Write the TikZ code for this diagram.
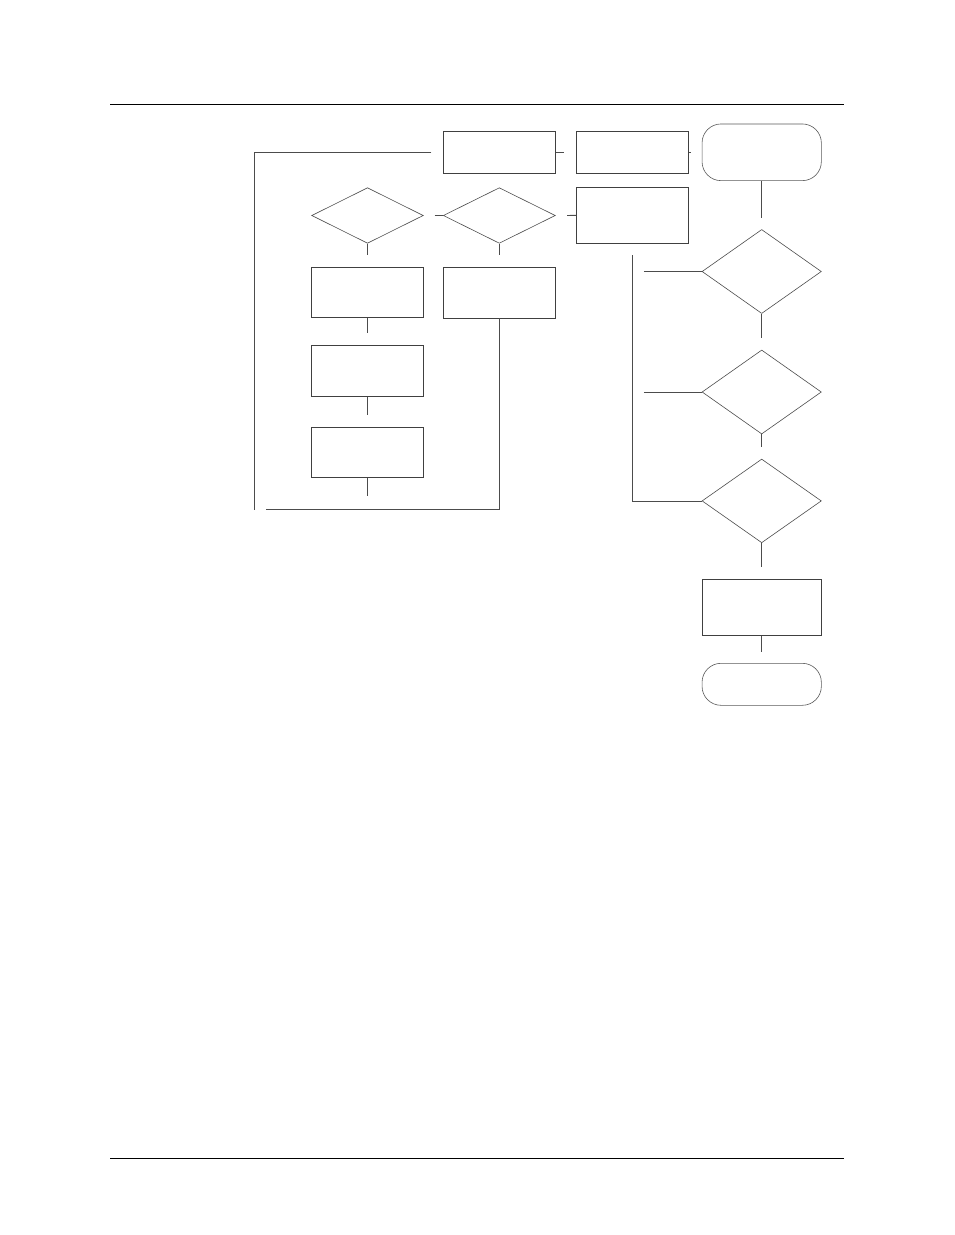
\documentclass[tikz,border=0pt]{standalone}
\usepackage{tikz}
\usetikzlibrary{shapes.geometric}

\tikzset{
  box/.style={draw=black!75, line width=0.7pt, rectangle, inner sep=0pt, minimum width=112pt},
  term/.style={draw=black!65, line width=0.6pt, rectangle, rounded corners=19pt, inner sep=0pt, minimum width=119.3pt},
  test/.style={draw=black!70, line width=0.6pt, diamond, inner sep=0pt},
  link/.style={draw=black!70, line width=0.8pt},
  rule/.style={draw=black, line width=1pt}
}

\begin{document}
\begin{tikzpicture}[x=1pt, y=-1pt]
\useasboundingbox (0,0) rectangle (954,1235);
\draw[rule] (110,104.3) -- (844,104.3);
\draw[rule] (110,1158.3) -- (844,1158.3);

\node[box, minimum height=41.6pt] (a) at (499.3,152.5) {};
\node[box, minimum width=112.4pt, minimum height=41.6pt] (b) at (632.5,152.5) {};
\node[term, minimum height=56.7pt] (start) at (761.7,152.3) {};
\node[test, minimum width=111.6pt, minimum height=55.6pt] (d1) at (367.5,215.5) {};
\node[test, minimum width=112pt, minimum height=55.6pt] (d2) at (499.3,215.5) {};
\node[box, minimum width=112.4pt, minimum height=56pt] (c) at (632.5,215.3) {};
\node[test, minimum width=119.3pt, minimum height=84pt] (d3) at (761.7,271.5) {};
\node[box, minimum width=111.6pt, minimum height=50.7pt] (e) at (367.5,292.3) {};
\node[box, minimum height=51pt] (f) at (499.3,292.5) {};
\node[box, minimum width=111.6pt, minimum height=50.8pt] (g) at (367.5,371) {};
\node[test, minimum width=119.3pt, minimum height=84pt] (d4) at (761.7,392) {};
\node[box, minimum width=111.6pt, minimum height=50pt] (h) at (367.5,452.3) {};
\node[test, minimum width=119.3pt, minimum height=83.7pt] (d5) at (761.7,500.9) {};
\node[box, minimum width=119.3pt, minimum height=56pt] (i) at (761.7,607.3) {};
\node[term, minimum height=42pt] (stop) at (761.7,684.3) {};

\coordinate (loopend) at (254.7,509.6);
\coordinate (hend) at (367.5,496.3);

\draw[link, shorten >=11.6pt] (a) -- (b);
\draw[link, shorten >=11pt] (b) -- (start);
\draw[link, shorten <=11pt] (d1) -- (d2);
\draw[link, shorten <=11.7pt] (d2) -- (c);
\draw[link, shorten >=11.5pt] (start) -- (d3);
\draw[link, shorten >=11.5pt] (d3) -- (d4);
\draw[link, shorten >=11.5pt] (d4) -- (d5);
\draw[link, shorten >=11.5pt] (d5) -- (i);
\draw[link, shorten >=11.3pt] (i) -- (stop);
\draw[link, shorten >=11.3pt] (d1) -- (e);
\draw[link, shorten >=11.3pt] (d2) -- (f);
\draw[link, shorten >=12pt] (e) -- (g);
\draw[link, shorten >=12pt] (g) -- (h);
\draw[link] (h) -- (hend);
\draw[link, shorten <=11.7pt] (c.south) |- (d5.west);
\draw[link, shorten <=11.3pt] (c.south |- d3.west) -- (d3.west);
\draw[link, shorten <=11.3pt] (c.south |- d4.west) -- (d4.west);
\draw[link, shorten <=11.6pt] (a.west) -| (loopend);
\draw[link, shorten >=11.3pt] (f.south) |- (loopend);
\end{tikzpicture}
\end{document}
